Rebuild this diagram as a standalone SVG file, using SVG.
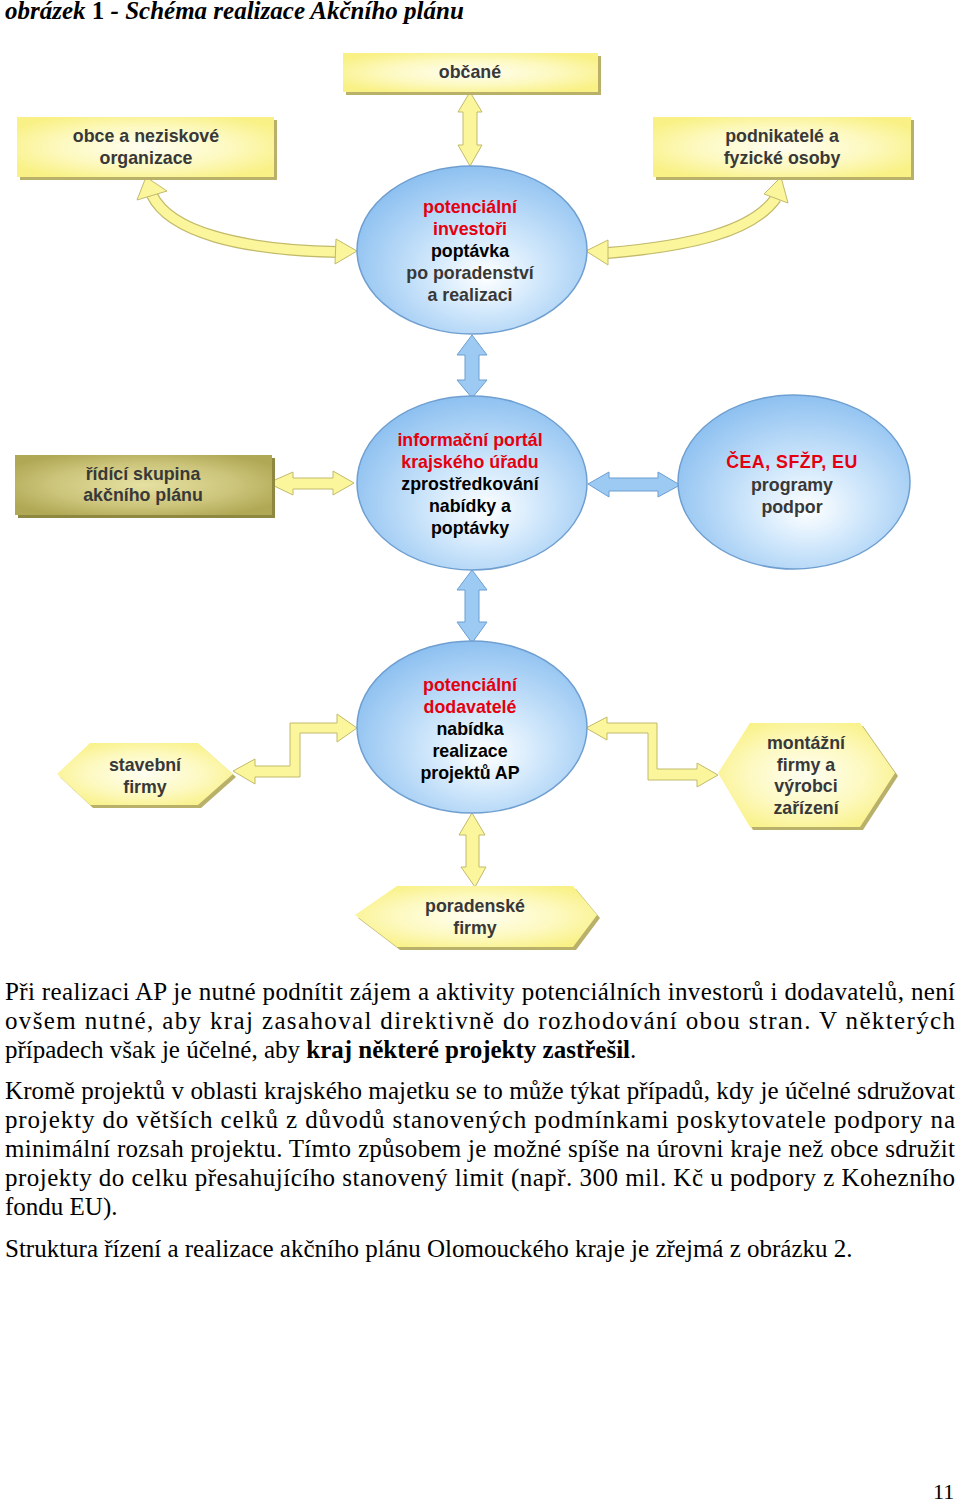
<svg xmlns="http://www.w3.org/2000/svg" width="960" height="1501" viewBox="0 0 960 1501">
<defs>
<style>
.lbl{font-family:"Liberation Sans",Arial,sans-serif;font-weight:bold;font-size:17.8px;text-anchor:middle}
.red{fill:#e4000f}
.blk{fill:#000}
.gry{fill:#383838}
.para{font-family:"Liberation Serif","Times New Roman",serif;font-size:25px;fill:#000}
.yarrow{fill:#fbf59c;stroke:#c2ba6a;stroke-width:1}
.barrow{fill:#9dcaf2;stroke:#6a9ed2;stroke-width:1}
.yshadow{fill:#b9b06a}
.circ{fill:url(#gBlue);stroke:#6f9fd0;stroke-width:1.5}
.ybox{fill:url(#gYel)}
</style>
<radialGradient id="gYel" cx="0.5" cy="0.5" r="0.6">
<stop offset="0" stop-color="#fffef2"/>
<stop offset="0.55" stop-color="#fdf9c0"/>
<stop offset="1" stop-color="#f9f185"/>
</radialGradient>
<radialGradient id="gOlive" cx="0.5" cy="0.5" r="0.6">
<stop offset="0" stop-color="#e6e1a2"/>
<stop offset="0.6" stop-color="#cbc47a"/>
<stop offset="1" stop-color="#b0a854"/>
</radialGradient>
<radialGradient id="gBlue" cx="0.55" cy="0.6" r="0.62" fx="0.56" fy="0.66">
<stop offset="0" stop-color="#ffffff"/>
<stop offset="0.35" stop-color="#d5eafc"/>
<stop offset="1" stop-color="#8bbff0"/>
</radialGradient>
</defs>
<rect width="960" height="1501" fill="#fff"/>

<text x="5" y="19" font-family="'Liberation Serif','Times New Roman',serif" font-size="25" font-weight="bold" font-style="italic" fill="#000">obrázek <tspan font-style="normal">1</tspan> - Schéma realizace Akčního plánu</text>

<g id="connectors">
  <polygon class="yarrow" points="470,92 482,112 477,112 477,145 482,145 470,166 458,145 463,145 463,112 458,112"/>
  <polygon class="barrow" points="472,335 487,355 479,355 479,380 487,380 472,398 457,380 465,380 465,355 457,355"/>
  <polygon class="barrow" points="472,570 487,590 479,590 479,622 487,622 472,643 457,622 465,622 465,590 457,590"/>
  <polygon class="yarrow" points="472,813 485,835 479,835 479,867 486,867 475,887 461,867 466,867 466,835 459,835"/>
  <polygon class="yarrow" points="268,483 293,472 293,478 333,478 333,471 354,483 333,495 333,489 293,489 293,495"/>
  <polygon class="barrow" points="588,484 609,472 609,478 658,478 658,472 680,485 658,497 658,491 609,491 609,497"/>
  <path d="M152,195 C170,232 240,250 338,252" fill="none" stroke="#c2ba6a" stroke-width="12"/>
  <path d="M152,195 C170,232 240,250 338,252" fill="none" stroke="#fbf59c" stroke-width="9.5"/>
  <polygon class="yarrow" points="146,177 167,191 137,200"/>
  <polygon class="yarrow" points="336,239 357,251 335,264"/>
  <path d="M607,253 C690,246 752,232 776,198" fill="none" stroke="#c2ba6a" stroke-width="12"/>
  <path d="M607,253 C690,246 752,232 776,198" fill="none" stroke="#fbf59c" stroke-width="9.5"/>
  <polygon class="yarrow" points="586,251 608,240 608,265"/>
  <polygon class="yarrow" points="781,177 788,203 764,194"/>
  <polygon class="yarrow" points="233,771 255,759 255,766 290,766 290,723 337,723 337,714 357,728 337,742 337,733 300,733 300,777 255,777 255,784"/>
  <polygon class="yarrow" points="586,728 607,717 607,723 657,723 657,769 697,769 697,763 718,775 697,787 697,780 648,780 648,733 607,733 607,740"/>
</g>

<g id="node-obcane">
  <rect class="yshadow" x="346" y="56" width="255" height="39"/>
  <rect class="ybox" x="343" y="53" width="255" height="39"/>
  <text class="lbl gry" x="470" y="78">občané</text>
</g>
<g id="node-obce">
  <rect class="yshadow" x="20" y="120" width="257" height="60"/>
  <rect class="ybox" x="17" y="117" width="257" height="60"/>
  <text class="lbl gry" x="146" y="142">obce a neziskové</text>
  <text class="lbl gry" x="146" y="164">organizace</text>
</g>
<g id="node-podnikatele">
  <rect class="yshadow" x="656" y="120" width="258" height="60"/>
  <rect class="ybox" x="653" y="117" width="258" height="60"/>
  <text class="lbl gry" x="782" y="142">podnikatelé a</text>
  <text class="lbl gry" x="782" y="164">fyzické osoby</text>
</g>
<g id="node-investori">
  <ellipse class="circ" cx="472" cy="250" rx="115" ry="84"/>
  <text class="lbl red" x="470" y="213">potenciální</text>
  <text class="lbl red" x="470" y="235">investoři</text>
  <text class="lbl blk" x="470" y="257">poptávka</text>
  <text class="lbl gry" x="470" y="279">po poradenství</text>
  <text class="lbl gry" x="470" y="301">a realizaci</text>
</g>
<g id="node-ridici">
  <rect x="18" y="458" width="257" height="60" fill="#8e8840"/>
  <rect x="15" y="455" width="257" height="60" fill="url(#gOlive)"/>
  <text class="lbl gry" x="143" y="480">řídící skupina</text>
  <text class="lbl gry" x="143" y="501">akčního plánu</text>
</g>
<g id="node-portal">
  <ellipse class="circ" cx="472" cy="483" rx="115" ry="87"/>
  <text class="lbl red" x="470" y="446">informační portál</text>
  <text class="lbl red" x="470" y="468">krajského úřadu</text>
  <text class="lbl blk" x="470" y="490">zprostředkování</text>
  <text class="lbl blk" x="470" y="512">nabídky a</text>
  <text class="lbl blk" x="470" y="534">poptávky</text>
</g>
<g id="node-cea">
  <ellipse class="circ" cx="794" cy="482" rx="116" ry="87"/>
  <text class="lbl red" x="792" y="468" letter-spacing="0.5">ČEA, SFŽP, EU</text>
  <text class="lbl gry" x="792" y="491">programy</text>
  <text class="lbl gry" x="792" y="513">podpor</text>
</g>
<g id="node-dodavatele">
  <ellipse class="circ" cx="472" cy="727" rx="115" ry="86"/>
  <text class="lbl red" x="470" y="691">potenciální</text>
  <text class="lbl red" x="470" y="713">dodavatelé</text>
  <text class="lbl blk" x="470" y="735">nabídka</text>
  <text class="lbl blk" x="470" y="757">realizace</text>
  <text class="lbl blk" x="470" y="779">projektů AP</text>
</g>
<g id="node-stavebni">
  <polygon class="yshadow" points="60,777 93,746 201,746 236,777 201,808 93,808"/>
  <polygon class="ybox" points="57,774 90,743 198,743 233,774 198,805 90,805"/>
  <text class="lbl gry" x="145" y="771">stavební</text>
  <text class="lbl gry" x="145" y="793">firmy</text>
</g>
<g id="node-montazni">
  <polygon class="yshadow" points="721,776 753,726 863,726 898,776 863,830 753,830"/>
  <polygon class="ybox" points="718,773 750,723 860,723 895,773 860,827 750,827"/>
  <text class="lbl gry" x="806" y="749">montážní</text>
  <text class="lbl gry" x="806" y="771">firmy a</text>
  <text class="lbl gry" x="806" y="792">výrobci</text>
  <text class="lbl gry" x="806" y="814">zařízení</text>
</g>
<g id="node-poradenske">
  <polygon class="yshadow" points="358,918 400,889 576,889 600,918 576,950 400,950"/>
  <polygon class="ybox" points="355,915 397,886 573,886 597,915 573,947 397,947"/>
  <text class="lbl gry" x="475" y="912">poradenské</text>
  <text class="lbl gry" x="475" y="934">firmy</text>
</g>

<g id="body-text" class="para">
  <text x="5" y="1000" textLength="950" lengthAdjust="spacing">Při realizaci AP je nutné podnítit zájem a aktivity potenciálních investorů i dodavatelů, není</text>
  <text x="5" y="1029" textLength="950" lengthAdjust="spacing">ovšem nutné, aby kraj zasahoval direktivně do rozhodování obou stran. V některých</text>
  <text x="5" y="1058">případech však je účelné, aby <tspan font-weight="bold">kraj některé projekty zastřešil</tspan>.</text>
  <text x="5" y="1099" textLength="950" lengthAdjust="spacing">Kromě projektů v oblasti krajského majetku se to může týkat případů, kdy je účelné sdružovat</text>
  <text x="5" y="1128" textLength="950" lengthAdjust="spacing">projekty do větších celků z důvodů stanovených podmínkami poskytovatele podpory na</text>
  <text x="5" y="1157" textLength="950" lengthAdjust="spacing">minimální rozsah projektu. Tímto způsobem je možné spíše na úrovni kraje než obce sdružit</text>
  <text x="5" y="1186" textLength="950" lengthAdjust="spacing">projekty do celku přesahujícího stanovený limit (např. 300 mil. Kč u podpory z Kohezního</text>
  <text x="5" y="1215">fondu EU).</text>
  <text x="5" y="1257">Struktura řízení a realizace akčního plánu Olomouckého kraje je zřejmá z obrázku 2.</text>
  <text x="933" y="1499" font-size="22">11</text>
</g>
</svg>
